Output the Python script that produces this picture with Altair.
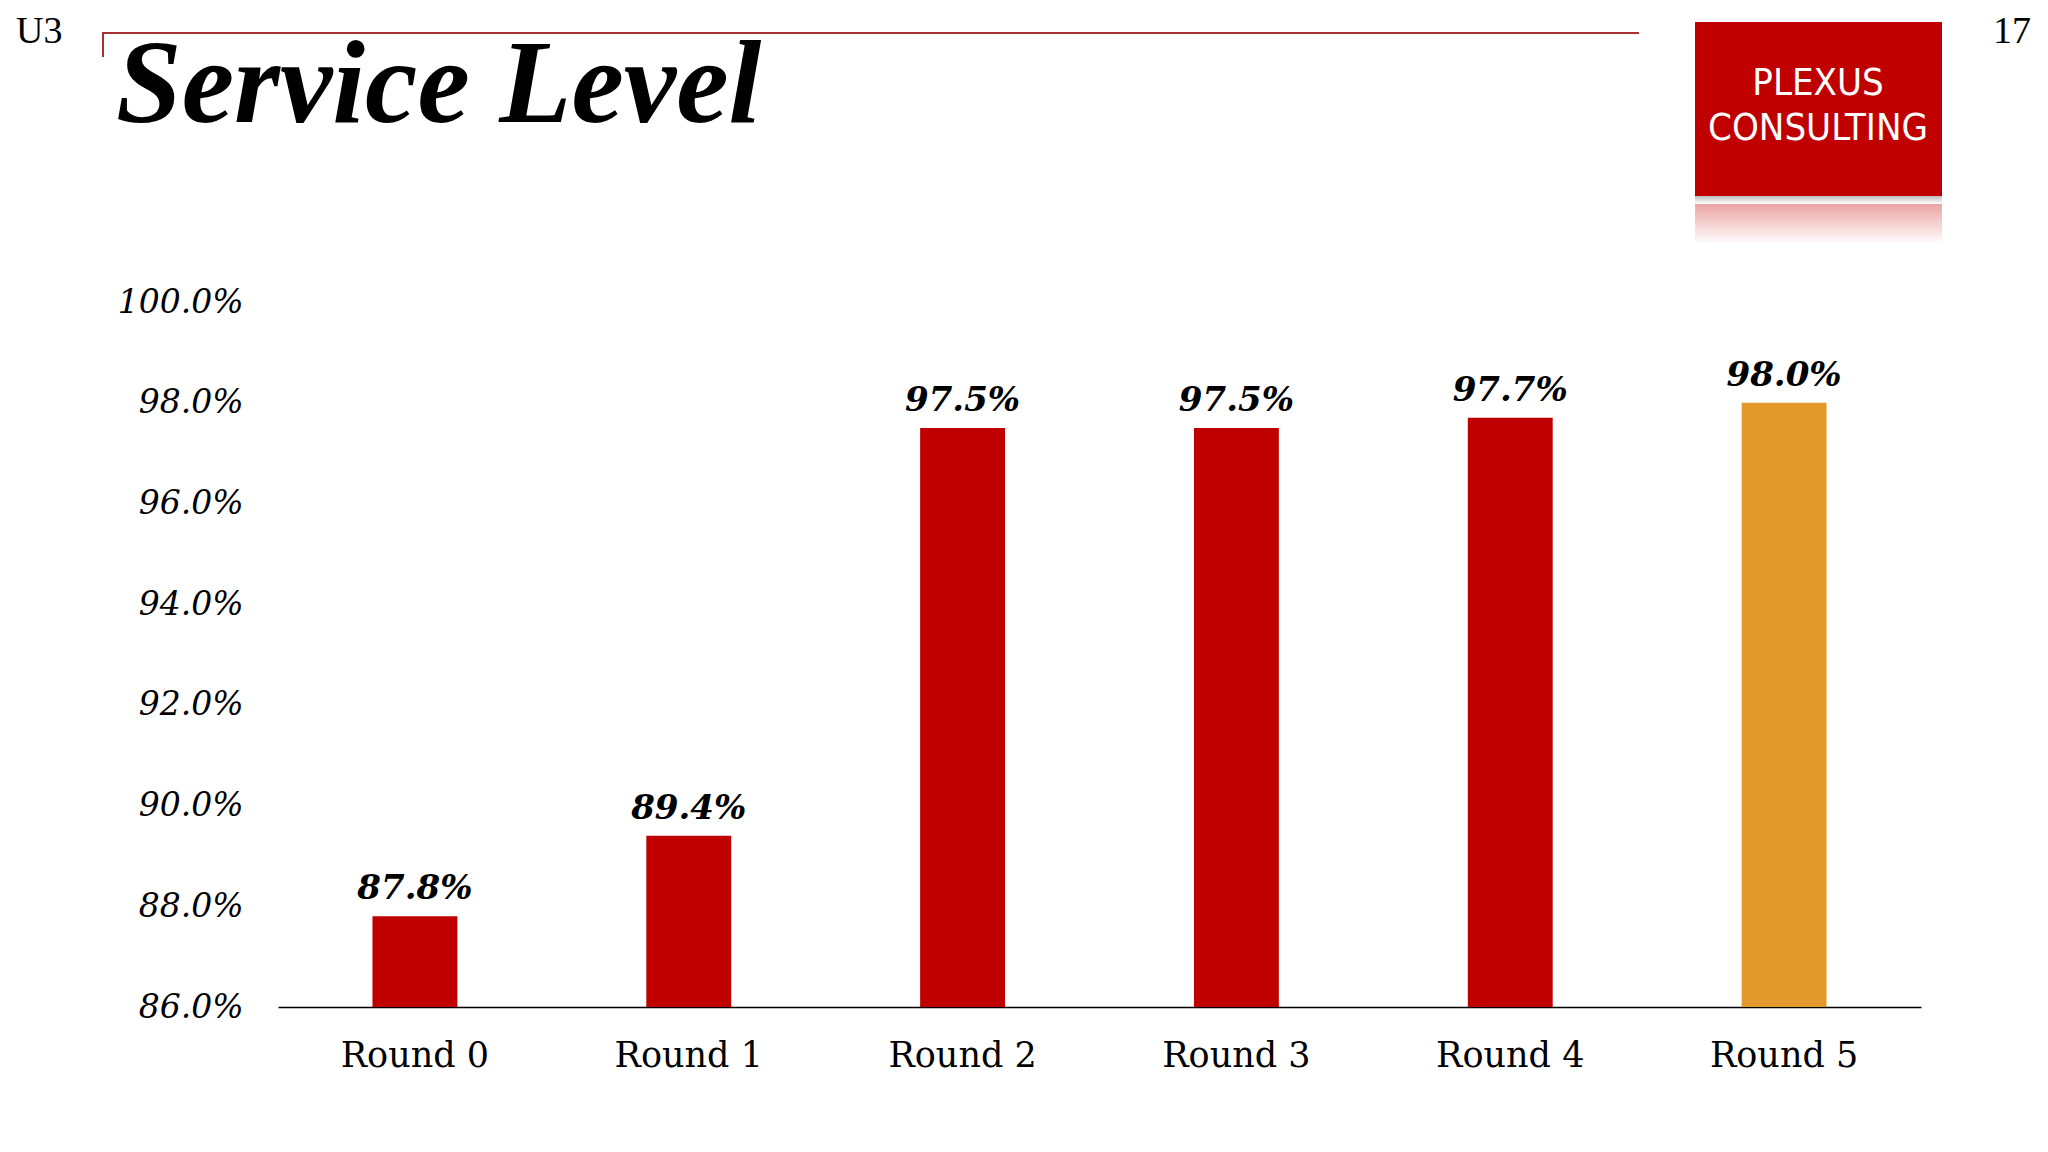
import altair as alt
import pandas as pd

rounds = ["Round 0", "Round 1", "Round 2", "Round 3", "Round 4", "Round 5"]
values = [0.878, 0.894, 0.975, 0.975, 0.977, 0.980]
colors = ["#C00000", "#C00000", "#C00000", "#C00000", "#C00000", "#E0992A"]
y_ticks = [0.86, 0.88, 0.90, 0.92, 0.94, 0.96, 0.98, 1.00]
y_domain = [0.86, 1.00]

title_text = ["Service Level"]
corner_left = ["U3"]
corner_right = ["17"]
logo_lines = ["PLEXUS", "CONSULTING"]

df = pd.DataFrame({"round": rounds, "value": values, "color": colors})

W, H = 1643, 705
SERIF = "DejaVu Serif"

x_enc = alt.X(
    "round:N",
    sort=rounds,
    scale=alt.Scale(paddingInner=0.69, paddingOuter=0.345),
    axis=alt.Axis(
        title=None, labelAngle=0, ticks=False, domainColor="#000000", domainWidth=1.5,
        labelFont=SERIF, labelFontSize=35, labelColor="#000000", labelPadding=31,
    ),
)
y_enc = alt.Y(
    "value:Q",
    scale=alt.Scale(domain=y_domain, zero=False, nice=False),
    axis=alt.Axis(
        title=None, values=y_ticks, format=".1%", domain=False, ticks=False, grid=False,
        labelFont=SERIF, labelFontStyle="italic", labelFontSize=33, labelColor="#000000",
        labelPadding=35,
    ),
)

base = alt.Chart(df)
bars = base.mark_bar().encode(
    x=x_enc,
    y=y_enc,
    y2=alt.datum(y_domain[0]),
    color=alt.Color("color:N", scale=None),
)
labels = base.mark_text(
    font=SERIF, fontSize=34, fontWeight="bold", fontStyle="italic",
    baseline="alphabetic", dy=-17, color="#000000",
).encode(x=alt.X("round:N", sort=rounds), y=alt.Y("value:Q"), text=alt.Text("value:Q", format=".1%"))

# decorations (slide frame)
one = alt.Chart(pd.DataFrame({"k": [0]}))
top_rule = one.mark_rule(color="#A83232", strokeWidth=2).encode(
    x=alt.value(-175), x2=alt.value(1361), y=alt.value(-269))
side_rule = one.mark_rule(color="#A83232", strokeWidth=2).encode(
    x=alt.value(-175), y=alt.value(-270), y2=alt.value(-245))

title = alt.Chart(pd.DataFrame({"t": title_text})).mark_text(
    font="Liberation Serif", fontSize=118, fontWeight="bold", fontStyle="italic",
    align="left", baseline="alphabetic", color="#000000",
).encode(x=alt.value(-162), y=alt.value(-180), text="t:N")

u3 = alt.Chart(pd.DataFrame({"t": corner_left})).mark_text(
    font="Liberation Serif", fontSize=38, align="left", baseline="alphabetic", color="#000000",
).encode(x=alt.value(-262), y=alt.value(-259), text="t:N")

num = alt.Chart(pd.DataFrame({"t": corner_right})).mark_text(
    font="Liberation Serif", fontSize=38, align="right", baseline="alphabetic", color="#000000",
).encode(x=alt.value(1753), y=alt.value(-259), text="t:N")

logo_box = one.mark_rect(color="#C00000").encode(
    x=alt.value(1417), x2=alt.value(1664), y=alt.value(-280), y2=alt.value(-106))
logo_shadow = one.mark_rect(
    color=alt.Gradient(gradient="linear", x1=0, x2=0, y1=0, y2=1,
                       stops=[alt.GradientStop(color="#BDBDBD", offset=0),
                              alt.GradientStop(color="#FFFFFF", offset=1)])
).encode(x=alt.value(1417), x2=alt.value(1664), y=alt.value(-106), y2=alt.value(-98))
logo_reflect = one.mark_rect(
    color=alt.Gradient(gradient="linear", x1=0, x2=0, y1=0, y2=1,
                       stops=[alt.GradientStop(color="#EBA3A3", offset=0),
                              alt.GradientStop(color="#FFFFFF", offset=1)])
).encode(x=alt.value(1417), x2=alt.value(1664), y=alt.value(-98), y2=alt.value(-58))

logo_text1 = alt.Chart(pd.DataFrame({"t": logo_lines[:1]})).mark_text(
    font="DejaVu Sans Condensed", fontSize=38, color="#FFFFFF", align="center", baseline="middle",
).encode(x=alt.value(1540), y=alt.value(-218), text="t:N")
logo_text2 = alt.Chart(pd.DataFrame({"t": logo_lines[1:]})).mark_text(
    font="DejaVu Sans Condensed", fontSize=38, color="#FFFFFF", align="center", baseline="middle",
).encode(x=alt.value(1540), y=alt.value(-173), text="t:N")

chart = alt.layer(
    bars, labels, top_rule, side_rule, title, u3, num,
    logo_box, logo_shadow, logo_reflect, logo_text1, logo_text2,
).properties(
    width=W, height=H,
    autosize=alt.AutoSizeParams(type="none"),
    padding={"left": 270, "top": 294, "right": 119, "bottom": 137},
    background="#FFFFFF",
).configure_view(strokeWidth=0)

chart.save("out.html", embed_options={"renderer": "svg", "actions": False})
